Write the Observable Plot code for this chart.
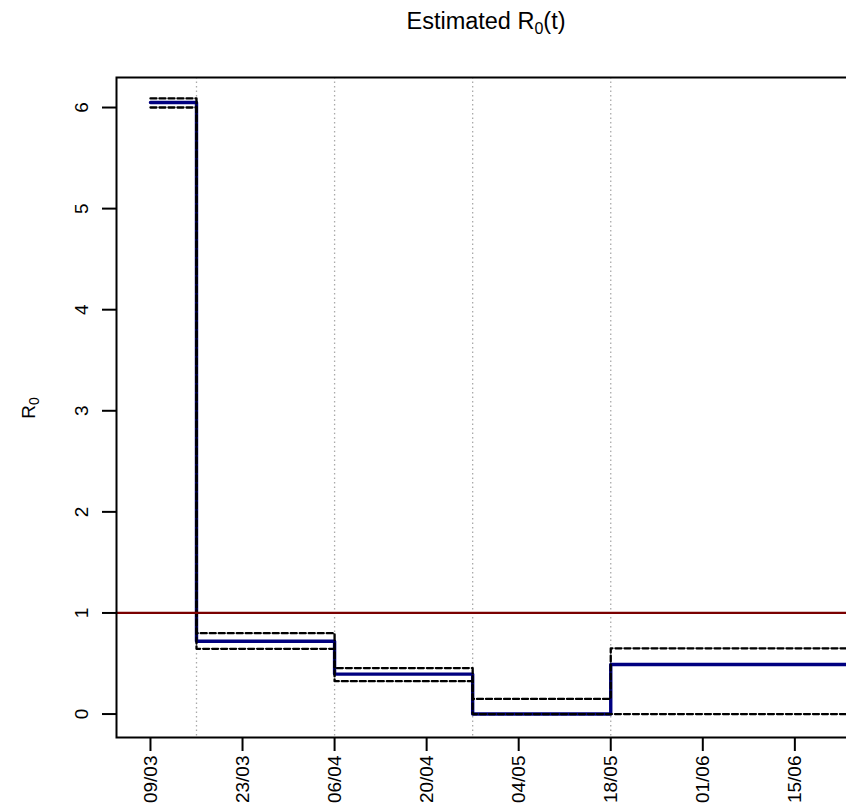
<!DOCTYPE html>
<html><head><meta charset="utf-8">
<script src="https://cdn.jsdelivr.net/npm/d3@7"></script>
<script src="https://cdn.jsdelivr.net/npm/@observablehq/plot@0.6"></script>
<style>
html,body{margin:0;padding:0;background:#fff;overflow:hidden;}
#wrap{position:relative;width:846px;height:811px;overflow:hidden;font-family:"Liberation Sans",Arial,Helvetica,sans-serif;color:#000;}
#chart svg{display:block;overflow:hidden;max-width:none !important;width:880px !important;height:811px !important;}
#title{position:absolute;left:0;top:10px;width:972px;text-align:center;font-size:23.5px;line-height:23px;white-space:nowrap;}
#title sub{font-size:16px;vertical-align:-5px;line-height:0;}
#ylab{position:absolute;left:28px;top:408px;transform:translate(-50%,-50%) rotate(-90deg);font-size:19px;line-height:19px;white-space:nowrap;}
#ylab sub{font-size:14px;vertical-align:-4px;line-height:0;}
</style></head>
<body><div id="wrap"><div id="chart"></div><div id="title">Estimated R<sub>0</sub>(t)</div><div id="ylab">R<sub>0</sub></div></div>
<script>
// change points of the piecewise-constant estimate
const changeDates = ["2020-03-09","2020-03-16","2020-04-06","2020-04-27","2020-05-18"];
const endDate = "2020-07-01";
const r0Values    = [6.05, 0.72, 0.395, 0.0, 0.49];
const upperValues = [6.09, 0.80, 0.455, 0.15, 0.65];
const lowerValues = [6.00, 0.645, 0.325, 0.0, 0.0];
const thresholdValue = [1];
const xTickLabels = ["09/03","23/03","06/04","20/04","04/05","18/05","01/06","15/06"];
const yTickValues = [0,1,2,3,4,5,6];

const parse = s => new Date(s + "T00:00:00Z");
const labelToDate = s => { const [d, m] = s.split("/").map(Number); return new Date(Date.UTC(2020, m - 1, d)); };
const xTicks = xTickLabels.map(labelToDate);
const fmt = d3.utcFormat("%d/%m");

function stepRows(values) {
  const rows = values.map((v, i) => ({date: parse(changeDates[i]), value: v}));
  rows.push({date: parse(endDate), value: values[values.length - 1]});
  return rows;
}
const midRows = stepRows(r0Values);
const upRows = stepRows(upperValues);
const loRows = stepRows(lowerValues);
const breakDates = changeDates.slice(1).map(parse);

const chart = Plot.plot({
  width: 880,
  height: 811,
  marginLeft: 116,
  marginRight: 24,
  marginTop: 77,
  marginBottom: 74,
  style: {fontFamily: '"Liberation Sans", Arial, Helvetica, sans-serif', fontSize: "19px", background: "#fff", color: "#000", maxWidth: "none"},
  x: {type: "utc", domain: [new Date(Date.UTC(2020,2,3,20)), new Date(Date.UTC(2020,5,24,9))]},
  y: {domain: [-0.232, 6.297]},
  marks: [
    Plot.ruleX(breakDates, {stroke: "#aaaaaa", strokeWidth: 1.3, strokeDasharray: "1.5,3"}),
    Plot.line(midRows, {x: "date", y: "value", curve: "step-after", stroke: "#000080", strokeWidth: 3.4, clip: true}),
    Plot.line(upRows, {x: "date", y: "value", curve: "step-after", stroke: "#000", strokeWidth: 2.3, strokeDasharray: "6,3", clip: true}),
    Plot.line(loRows, {x: "date", y: "value", curve: "step-after", stroke: "#000", strokeWidth: 2.3, strokeDasharray: "6,3", clip: true}),
    Plot.ruleY(thresholdValue, {stroke: "#7a0000", strokeWidth: 2.2}),
    Plot.frame({stroke: "#000", strokeWidth: 2}),
    Plot.axisY({ticks: yTickValues, tickSize: 14, tickPadding: 15, tickRotate: -90, strokeWidth: 2, label: null, fontSize: 19, tickFormat: d => String(d)}),
    Plot.axisX({ticks: xTicks, tickSize: 14, tickPadding: 4, tickRotate: -90, textAnchor: "end", lineAnchor: "middle", strokeWidth: 2, label: null, fontSize: 19, tickFormat: fmt})
  ]
});
document.getElementById("chart").appendChild(chart);
</script>
</body></html>
